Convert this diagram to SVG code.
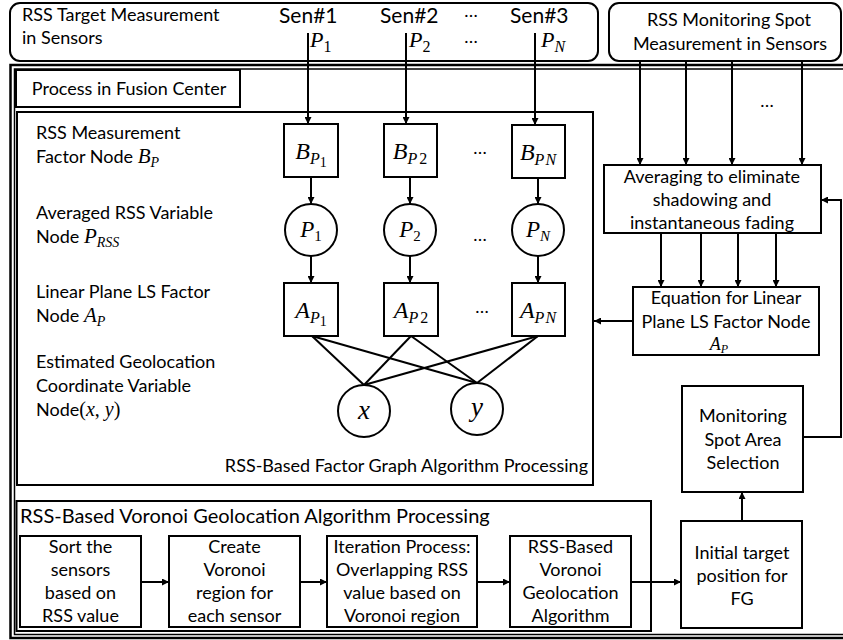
<svg xmlns="http://www.w3.org/2000/svg" width="843" height="640" viewBox="0 0 843 640">
<style>
.box{fill:#fff;stroke:#000;stroke-width:2}
.nb{fill:none;stroke:#000;stroke-width:2}
.ln{fill:none;stroke:#000;stroke-width:2}
.ar{marker-end:url(#ah)}
text{font-family:Lato,"Liberation Sans",sans-serif;font-size:18px;fill:#000}
.c{text-anchor:middle}
.m{font-family:"Liberation Serif","DejaVu Serif",serif;font-style:italic}
.u{font-family:"Liberation Serif","DejaVu Serif",serif;font-style:normal}
</style>
<defs>
<marker id="ah" viewBox="0 0 10 10" refX="10" refY="5" markerWidth="8" markerHeight="7" markerUnits="userSpaceOnUse" orient="auto"><path d="M0,0 L10,5 L0,10 z" fill="#000"/></marker>
</defs>
<rect width="843" height="640" fill="#fff"/>

<g id="fusion-frame">
<rect x="10.5" y="65" width="840" height="573" fill="none" stroke="#000" stroke-width="2.5"/>
<rect x="14.5" y="69" width="836" height="565.5" fill="none" stroke="#000" stroke-width="1.5"/>
</g>

<g id="sensors-target">
<rect x="10" y="3" width="588" height="58" rx="10" class="nb"/>
<text x="22" y="21">RSS Target Measurement</text>
<text x="22" y="44">in Sensors</text>
<text x="279" y="23" style="font-size:21px">Sen#1</text>
<text x="380" y="23" style="font-size:21px">Sen#2</text>
<text x="471" y="17" class="c">…</text>
<text x="510" y="23" style="font-size:21px">Sen#3</text>
<text x="310" y="47"><tspan class="m" font-size="22">P</tspan><tspan class="u" font-size="16" dy="5">1</tspan></text>
<text x="409" y="47"><tspan class="m" font-size="22">P</tspan><tspan class="u" font-size="16" dy="5">2</tspan></text>
<text x="471" y="43" class="c">…</text>
<text x="541" y="47"><tspan class="m" font-size="22">P</tspan><tspan class="m" font-size="16" dy="5">N</tspan></text>
</g>

<g id="sensors-monitor">
<rect x="609" y="3" width="232" height="58" rx="10" class="nb"/>
<text x="729" y="26" class="c">RSS Monitoring Spot</text>
<text x="730" y="50" class="c">Measurement in Sensors</text>
</g>

<g id="process-label">
<rect x="16" y="70" width="224" height="37" class="nb"/>
<text x="129" y="95" class="c">Process in Fusion Center</text>
</g>

<g id="factor-graph">
<rect x="17" y="112" width="576" height="373" class="nb"/>
<text x="36" y="139">RSS Measurement</text>
<text x="36" y="163">Factor Node <tspan class="m" font-size="21">B</tspan><tspan class="m" font-size="14" dy="4">P</tspan></text>
<text x="36" y="219">Averaged RSS Variable</text>
<text x="36" y="243">Node <tspan class="m" font-size="21">P</tspan><tspan class="m" font-size="14" dy="4">RSS</tspan></text>
<text x="36" y="298">Linear Plane LS Factor</text>
<text x="36" y="322">Node <tspan class="m" font-size="21">A</tspan><tspan class="m" font-size="14" dy="4">P</tspan></text>
<text x="36" y="368">Estimated Geolocation</text>
<text x="36" y="392">Coordinate Variable</text>
<text x="36" y="416">Node<tspan class="u" font-size="20">(</tspan><tspan class="m" font-size="20">x</tspan><tspan class="u" font-size="20">, </tspan><tspan class="m" font-size="20">y</tspan><tspan class="u" font-size="20">)</tspan></text>
<text x="588" y="472" text-anchor="end">RSS-Based Factor Graph Algorithm Processing</text>
<text x="480" y="154" class="c">…</text>
<text x="480" y="241" class="c">…</text>
<text x="482" y="313" class="c">…</text>
</g>

<g id="B1"><rect x="284" y="124" width="54" height="53" class="box"/>
<text x="311" y="159" class="c"><tspan class="m" font-size="24">B</tspan><tspan class="m" font-size="16" dy="5">P</tspan><tspan class="u" font-size="14" dy="3">1</tspan></text></g>
<g id="B2"><rect x="384" y="124" width="53" height="53" class="box"/>
<text x="410" y="159" class="c"><tspan class="m" font-size="24">B</tspan><tspan class="m" font-size="16" dy="5">P</tspan><tspan class="u" font-size="16" dx="2">2</tspan></text></g>
<g id="BN"><rect x="512" y="125" width="53" height="53" class="box"/>
<text x="538" y="160" class="c"><tspan class="m" font-size="24">B</tspan><tspan class="m" font-size="16" dy="5">P</tspan><tspan class="m" font-size="16" dx="1">N</tspan></text></g>

<g id="P1"><circle cx="311" cy="230" r="26" class="box"/>
<text x="311" y="237" class="c"><tspan class="m" font-size="23">P</tspan><tspan class="u" font-size="15" dy="4">1</tspan></text></g>
<g id="P2"><circle cx="410" cy="230" r="26" class="box"/>
<text x="410" y="237" class="c"><tspan class="m" font-size="23">P</tspan><tspan class="u" font-size="15" dy="4">2</tspan></text></g>
<g id="PN"><circle cx="538" cy="230" r="26" class="box"/>
<text x="538" y="237" class="c"><tspan class="m" font-size="23">P</tspan><tspan class="m" font-size="15" dy="4">N</tspan></text></g>

<g id="A1"><rect x="284" y="283" width="54" height="53" class="box"/>
<text x="311" y="318" class="c"><tspan class="m" font-size="24">A</tspan><tspan class="m" font-size="16" dy="5">P</tspan><tspan class="u" font-size="14" dy="3">1</tspan></text></g>
<g id="A2"><rect x="384" y="283" width="54" height="53" class="box"/>
<text x="411" y="318" class="c"><tspan class="m" font-size="24">A</tspan><tspan class="m" font-size="16" dy="5">P</tspan><tspan class="u" font-size="16" dx="2">2</tspan></text></g>
<g id="AN"><rect x="512" y="283" width="53" height="53" class="box"/>
<text x="538" y="318" class="c"><tspan class="m" font-size="24">A</tspan><tspan class="m" font-size="16" dy="5">P</tspan><tspan class="m" font-size="16" dx="1">N</tspan></text></g>

<g id="X"><circle cx="364" cy="411" r="26" class="box"/>
<text x="364" y="419" class="c m" style="font-size:27px">x</text></g>
<g id="Y"><circle cx="477" cy="409" r="26" class="box"/>
<text x="477" y="416" class="c m" style="font-size:27px">y</text></g>

<g id="averaging">
<rect x="604" y="165" width="217" height="68" class="box"/>
<text x="712" y="183" class="c">Averaging to eliminate</text>
<text x="712" y="206" class="c">shadowing and</text>
<text x="712" y="229" class="c">instantaneous fading</text>
<text x="767" y="107" class="c">…</text>
</g>

<g id="equation">
<rect x="633" y="287" width="186" height="68" class="box"/>
<text x="726" y="304" class="c">Equation for Linear</text>
<text x="726" y="328" class="c">Plane LS Factor Node</text>
<text x="719" y="350" class="c"><tspan class="m" font-size="18">A</tspan><tspan class="m" font-size="12" dy="3">P</tspan></text>
</g>

<g id="monitoring">
<rect x="682" y="386" width="121" height="106" class="box"/>
<text x="743" y="422" class="c">Monitoring</text>
<text x="743" y="446" class="c">Spot Area</text>
<text x="743" y="469" class="c">Selection</text>
</g>

<g id="initial">
<rect x="681" y="521" width="121" height="107" class="box"/>
<text x="742" y="559" class="c">Initial target</text>
<text x="742" y="582" class="c">position for</text>
<text x="742" y="605" class="c">FG</text>
</g>

<g id="voronoi">
<rect x="16.5" y="501" width="634.5" height="130" class="nb"/>
<text x="20" y="523" style="font-size:20px">RSS-Based Voronoi Geolocation Algorithm Processing</text>
</g>

<g id="V1"><rect x="20" y="536" width="121" height="91" class="box"/>
<text x="80.5" y="553" class="c">Sort the</text><text x="80.5" y="576" class="c">sensors</text><text x="80.5" y="599" class="c">based on</text><text x="80.5" y="622" class="c">RSS value</text></g>
<g id="V2"><rect x="169" y="536" width="131" height="91" class="box"/>
<text x="234.5" y="553" class="c">Create</text><text x="234.5" y="576" class="c">Voronoi</text><text x="234.5" y="599" class="c">region for</text><text x="234.5" y="622" class="c">each sensor</text></g>
<g id="V3"><rect x="327" y="536" width="150" height="91" class="box"/>
<text x="402" y="553" class="c">Iteration Process:</text><text x="402" y="576" class="c">Overlapping RSS</text><text x="402" y="599" class="c">value based on</text><text x="402" y="622" class="c">Voronoi region</text></g>
<g id="V4"><rect x="510" y="536" width="121" height="91" class="box"/>
<text x="570.5" y="553" class="c">RSS-Based</text><text x="570.5" y="576" class="c">Voronoi</text><text x="570.5" y="599" class="c">Geolocation</text><text x="570.5" y="622" class="c">Algorithm</text></g>

<g id="connectors">
<line x1="308" y1="33" x2="308" y2="124" class="ln ar"/>
<line x1="406" y1="33" x2="406" y2="124" class="ln ar"/>
<line x1="535" y1="33" x2="535" y2="125" class="ln ar"/>
<line x1="311" y1="177" x2="311" y2="204" class="ln ar"/>
<line x1="410" y1="177" x2="410" y2="204" class="ln ar"/>
<line x1="538" y1="178" x2="538" y2="204" class="ln ar"/>
<line x1="311" y1="256" x2="311" y2="283" class="ln ar"/>
<line x1="410" y1="256" x2="410" y2="283" class="ln ar"/>
<line x1="538" y1="256" x2="538" y2="283" class="ln ar"/>
<line x1="312" y1="336" x2="364" y2="385" class="ln"/>
<line x1="312" y1="336" x2="477" y2="383" class="ln"/>
<line x1="411" y1="336" x2="364" y2="385" class="ln"/>
<line x1="411" y1="336" x2="477" y2="383" class="ln"/>
<line x1="538" y1="336" x2="364" y2="385" class="ln"/>
<line x1="538" y1="336" x2="477" y2="383" class="ln"/>
<line x1="640" y1="61" x2="640" y2="165" class="ln ar"/>
<line x1="686" y1="61" x2="686" y2="165" class="ln ar"/>
<line x1="732" y1="61" x2="732" y2="165" class="ln ar"/>
<line x1="802" y1="61" x2="802" y2="165" class="ln ar"/>
<line x1="661" y1="233" x2="661" y2="287" class="ln ar"/>
<line x1="701" y1="233" x2="701" y2="287" class="ln ar"/>
<line x1="738" y1="233" x2="738" y2="287" class="ln ar"/>
<line x1="776" y1="233" x2="776" y2="287" class="ln ar"/>
<line x1="633" y1="321" x2="594" y2="321" class="ln ar"/>
<polyline points="803,437 841,437 841,200 821,200" class="ln ar"/>
<line x1="742" y1="521" x2="742" y2="492" class="ln ar"/>
<line x1="631" y1="582" x2="681" y2="582" class="ln ar"/>
<line x1="141" y1="582" x2="169" y2="582" class="ln ar"/>
<line x1="300" y1="582" x2="327" y2="582" class="ln ar"/>
<line x1="477" y1="582" x2="510" y2="582" class="ln ar"/>
</g>
</svg>
